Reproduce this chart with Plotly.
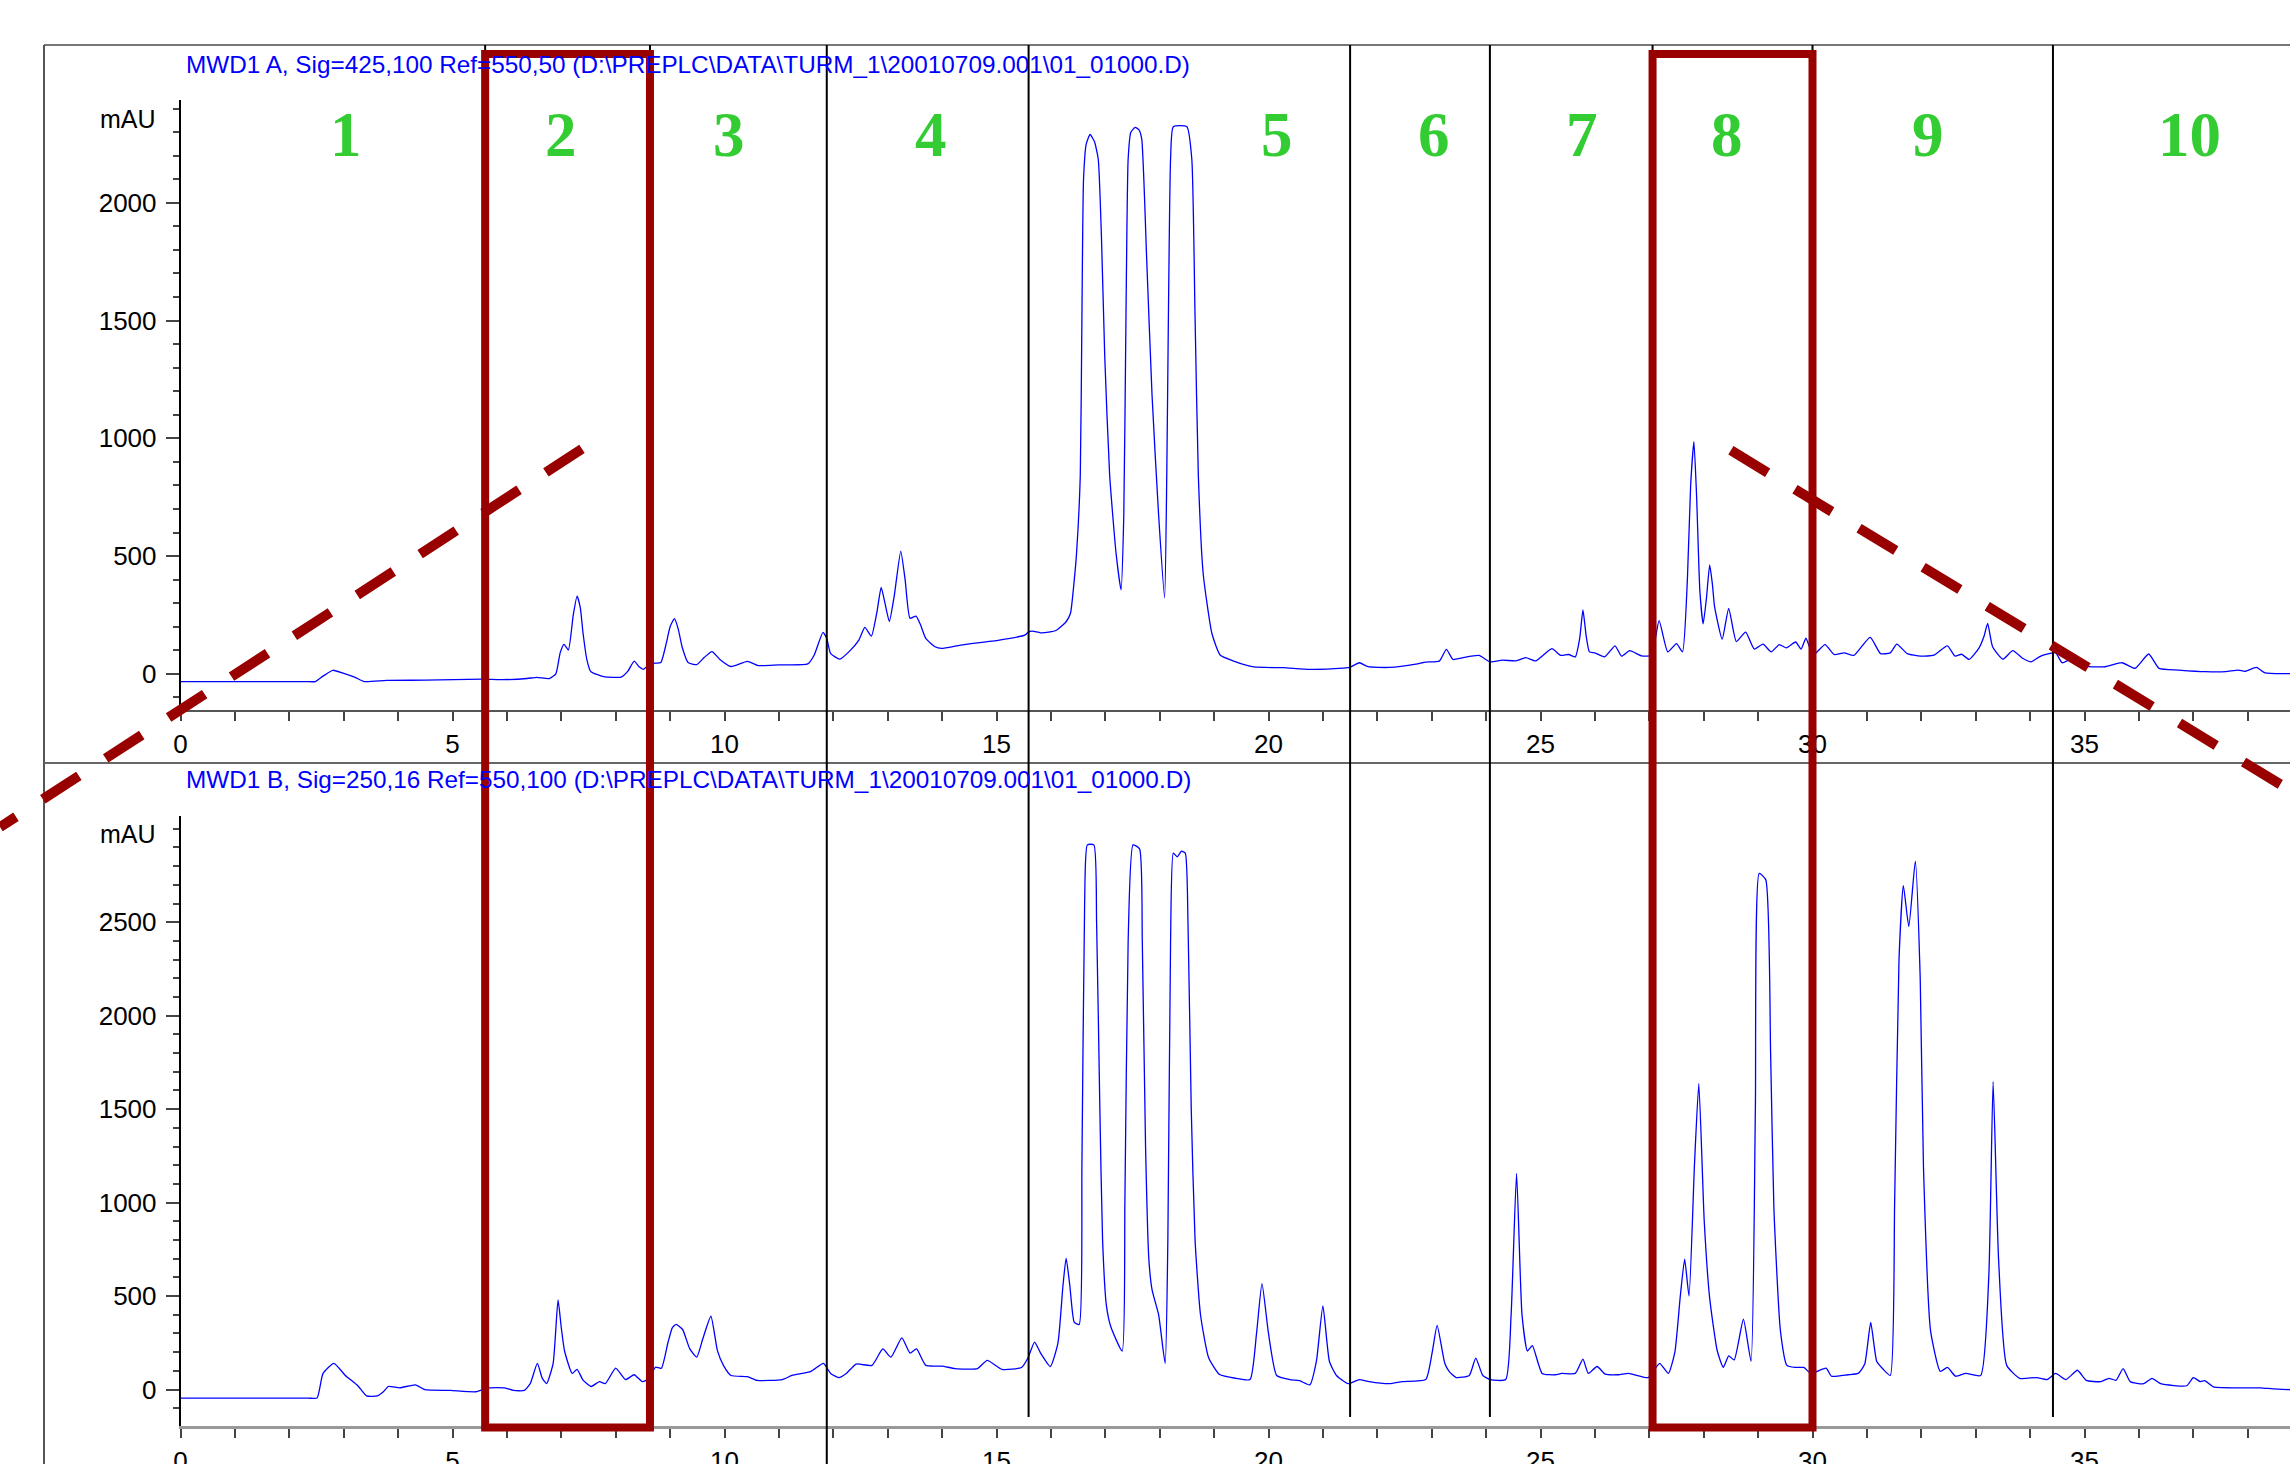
import plotly.graph_objects as go

W, H = 2290, 1464

# ---------------- data ----------------
# Signal A: MWD1 A, 425 nm  (time in min, absorbance in mAU)
time_a = [0.0, 1.2, 2.30, 2.48, 2.62, 2.80, 3.00, 3.21, 3.38, 3.79, 4.5, 5.55, 5.9, 6.37, 6.55, 6.78, 6.90, 6.98,
          7.05, 7.13, 7.22, 7.29, 7.35, 7.40, 7.47, 7.54, 7.78, 8.10, 8.22, 8.34, 8.43, 8.51, 8.60,
          8.72, 8.83, 8.93, 9.00, 9.08, 9.15, 9.22, 9.33, 9.49, 9.63, 9.77, 9.92, 10.12, 10.42, 10.62,
          11.0, 11.53, 11.65, 11.81, 11.88, 11.95, 12.12, 12.29, 12.47, 12.58, 12.70, 12.80, 12.88,
          12.95, 13.03, 13.12, 13.24, 13.32, 13.41, 13.52, 13.60, 13.70, 13.87, 13.99, 14.34, 15.05,
          15.52, 15.59, 15.66, 15.81, 15.96, 16.10, 16.28, 16.36, 16.43, 16.47, 16.54, 16.57, 16.60,
          16.65, 16.72, 16.80, 16.87, 16.93, 16.99, 17.08, 17.20, 17.29, 17.34, 17.38, 17.42, 17.47,
          17.55, 17.62, 17.67, 17.76, 17.86, 17.98, 18.09, 18.13, 18.16, 18.20, 18.25, 18.50, 18.59,
          18.65, 18.71, 18.80, 18.96, 19.11, 19.36, 19.73, 20.27, 20.76, 21.37, 21.49, 21.67, 21.83,
          22.22, 22.71, 22.89, 23.14, 23.27, 23.39, 23.56, 23.87, 24.07, 24.30, 24.55, 24.73, 24.91,
          25.21, 25.37, 25.52, 25.64, 25.72, 25.78, 25.84, 25.90, 26.00, 26.18, 26.37, 26.49, 26.64,
          26.86, 27.04, 27.18, 27.34, 27.50, 27.61, 27.70, 27.76, 27.82, 27.87, 27.93, 27.99, 28.05,
          28.11, 28.16, 28.20, 28.34, 28.46, 28.60, 28.77, 28.93, 29.09, 29.24, 29.39, 29.52, 29.69,
          29.79, 29.88, 30.01, 30.23, 30.40, 30.58, 30.76, 31.06, 31.25, 31.43, 31.55, 31.74, 31.99,
          32.23, 32.48, 32.62, 32.74, 32.88, 33.06, 33.15, 33.22, 33.31, 33.50, 33.68, 33.87, 34.02,
          34.17, 34.29, 34.47, 34.59, 34.84, 35.02, 35.38, 35.69, 35.93, 36.18, 36.37, 36.73, 37.22,
          37.59, 37.83, 37.95, 38.16, 38.32, 38.78]
signal_a = [-33, -33, -33, -33, -10, 15, 2, -15, -33, -28, -27, -23, -25, -20, -15, -20, 0, 90,
            125, 101, 250, 330, 280, 172, 60, 10, -12, -14, 10, 54, 30, 19, 35,
            45, 48, 130, 200, 234, 190, 115, 48, 39, 70, 94, 60, 31, 53, 35,
            38, 42, 80, 176, 150, 87, 62, 94, 143, 197, 160, 260, 367,
            300, 222, 330, 521, 400, 236, 245, 210, 150, 115, 108, 122, 143,
            164, 178, 181, 174, 177, 185, 221, 257, 400, 507, 842, 1515, 2101,
            2250, 2290, 2260, 2186, 1850, 1346, 844, 507, 356, 674, 1515, 2186, 2300,
            2320, 2310, 2270, 1766, 1180, 674, 322, 844, 1515, 2186, 2323, 2323, 2186,
            1515, 844, 424, 171, 80, 54, 29, 26, 19, 24, 27, 47, 30,
            27, 41, 50, 54, 104, 61, 68, 78, 51, 58, 55, 69, 55,
            107, 78, 82, 72, 150, 271, 160, 93, 89, 72, 119, 75, 98,
            76, 79, 226, 93, 128, 93, 400, 800, 986, 750, 350, 212, 320,
            462, 380, 285, 147, 278, 137, 177, 105, 126, 93, 124, 110, 135,
            105, 151, 79, 124, 82, 89, 78, 155, 86, 89, 126, 86, 75,
            79, 119, 75, 83, 61, 109, 157, 214, 115, 62, 98, 65, 51,
            72, 82, 89, 47, 72, 33, 30, 47, 23, 84, 23, 16, 9,
            9, 16, 10, 27, 4, 1]

# Signal B: MWD1 B, 250 nm
time_b = [0.0, 1.2, 2.35, 2.51, 2.62, 2.82, 3.03, 3.26, 3.42, 3.62, 3.73, 3.82, 4.03, 4.32, 4.49, 4.96, 5.43,
          5.67, 5.96, 6.12, 6.32, 6.43, 6.56, 6.65, 6.73, 6.85, 6.94, 7.00, 7.06, 7.20, 7.29, 7.40,
          7.55, 7.70, 7.81, 8.00, 8.18, 8.34, 8.49, 8.62, 8.73, 8.84, 8.96, 9.04, 9.11, 9.23, 9.36,
          9.49, 9.60, 9.75, 9.87, 9.98, 10.12, 10.42, 10.60, 11.06, 11.24, 11.59, 11.82, 11.95,
          12.10, 12.24, 12.42, 12.71, 12.91, 13.06, 13.26, 13.41, 13.53, 13.70, 14.00, 14.24, 14.65,
          14.83, 15.10, 15.46, 15.58, 15.70, 15.81, 15.99, 16.13, 16.22, 16.28, 16.35, 16.43, 16.52,
          16.57, 16.62, 16.67, 16.79, 16.84, 16.90, 16.95, 17.02, 17.10, 17.31, 17.36, 17.42, 17.51,
          17.63, 17.68, 17.74, 17.80, 17.86, 17.98, 18.10, 18.15, 18.20, 18.25, 18.32, 18.40, 18.47,
          18.52, 18.58, 18.65, 18.75, 18.90, 19.10, 19.40, 19.66, 19.78, 19.88, 20.00, 20.15, 20.39,
          20.57, 20.76, 20.88, 21.00, 21.12, 21.25, 21.47, 21.67, 21.85, 22.22, 22.46, 22.89, 23.01,
          23.10, 23.24, 23.32, 23.45, 23.69, 23.81, 23.94, 24.08, 24.36, 24.46, 24.56, 24.66, 24.76,
          24.85, 25.03, 25.27, 25.39, 25.64, 25.78, 25.88, 26.04, 26.19, 26.43, 26.62, 26.98, 27.19,
          27.35, 27.47, 27.57, 27.65, 27.73, 27.83, 27.91, 28.01, 28.11, 28.25, 28.36, 28.46, 28.56,
          28.73, 28.87, 28.95, 29.02, 29.14, 29.23, 29.29, 29.41, 29.53, 29.68, 29.84, 29.97, 30.25,
          30.35, 30.65, 30.84, 30.96, 31.07, 31.18, 31.30, 31.43, 31.51, 31.59, 31.67, 31.77, 31.89,
          31.98, 32.04, 32.17, 32.35, 32.48, 32.63, 32.82, 33.09, 33.24, 33.32, 33.42, 33.57, 33.81,
          34.12, 34.31, 34.47, 34.66, 34.87, 35.03, 35.30, 35.45, 35.58, 35.71, 35.84, 36.09, 36.24,
          36.40, 36.88, 37.00, 37.13, 37.21, 37.37, 37.98, 38.23, 38.47, 38.78]
signal_b = [-46, -46, -46, -46, 86, 140, 75, 20, -34, -34, -12, 16, 9, 25, -1, -5, -12,
            9, 9, -5, -5, 32, 140, 60, 32, 140, 479, 330, 206, 86, 108, 50,
            16, 42, 32, 114, 53, 79, 42, 60, 119, 114, 250, 330, 348, 321, 219,
            173, 270, 392, 208, 129, 75, 69, 49, 53, 75, 97, 140, 86,
            64, 86, 136, 129, 217, 173, 276, 195, 217, 129, 125, 112, 112,
            156, 108, 118, 170, 254, 195, 123, 250, 550, 703, 550, 359, 348,
            1200, 2600, 2914, 2914, 2500, 1500, 800, 450, 337, 206, 1000, 2400, 2914,
            2893, 2400, 1300, 700, 533, 400, 140, 800, 2400, 2870, 2850, 2880, 2870,
            2500, 1500, 800, 400, 170, 80, 60, 53, 300, 566, 300, 75, 53,
            47, 25, 150, 447, 150, 75, 31, 53, 42, 31, 42, 53, 200,
            343, 140, 97, 64, 75, 168, 75, 53, 53, 400, 1156, 400, 206,
            235, 86, 79, 86, 86, 162, 86, 123, 82, 79, 86, 64, 140,
            86, 200, 500, 697, 500, 1200, 1636, 900, 489, 206, 119, 180, 158,
            376, 151, 1500, 2761, 2728, 1800, 971, 315, 129, 118, 118, 86, 114,
            71, 79, 86, 136, 359, 151, 108, 75, 1000, 2300, 2696, 2477, 2827,
            2200, 1189, 315, 97, 118, 71, 86, 75, 600, 1647, 700, 129, 60,
            64, 53, 86, 53, 103, 49, 42, 60, 49, 112, 42, 31, 60,
            31, 20, 64, 42, 47, 14, 9, 9, 3, -1]

title_a = "MWD1 A, Sig=425,100 Ref=550,50 (D:\\PREPLC\\DATA\\TURM_1\\20010709.001\\01_01000.D)"
title_b = "MWD1 B, Sig=250,16 Ref=550,100 (D:\\PREPLC\\DATA\\TURM_1\\20010709.001\\01_01000.D)"
unit_label = "mAU"

fraction_labels = ["1", "2", "3", "4", "5", "6", "7", "8", "9", "10"]
fraction_label_time = [3.05, 7.0, 10.09, 13.79, 20.16, 23.05, 25.77, 28.42, 32.13, 36.93]
fraction_cuts = [5.60, 8.63, 11.88, 15.59, 21.50, 24.07, 27.06, 30.00, 34.42]
long_cut = 11.88                      # this divider runs down to the page edge
highlight_start = [5.60, 27.06]       # red boxes (fractions 2 and 8)
highlight_end = [8.63, 30.00]
# dashed "zoom" lines, in minutes / mAU of panel A
zoom_line_t = [[7.38, -3.318], [28.50, 38.78]]
zoom_line_v = [[955, -651], [949, -495]]

x_ticks = [0, 5, 10, 15, 20, 25, 30, 35]
y_ticks_a = [0, 500, 1000, 1500, 2000]
y_ticks_b = [0, 500, 1000, 1500, 2000, 2500]

# ---------------- geometry (pixels of the page) ----------------
PX_T0 = 180.5          # x pixel of t = 0
PX_PER_MIN = 54.4
A_ZERO, A_PPU, A_BOT, A_TOP = 673.8, 0.2355, 709.5, 100.0
B_ZERO, B_PPU, B_BOT, B_TOP = 1389.5, 0.1869, 1426.0, 816.0


def py(px):
    return 1 - px / H


def px_x(px):
    return px / W


t_max = (W - PX_T0) / PX_PER_MIN

SANS = "Liberation Sans, Arial, sans-serif"
BLUE = "#0000FF"
RED = "#990000"
GREEN = "#33CC33"

fig = go.Figure()
fig.add_trace(go.Scatter(x=time_a, y=signal_a, mode="lines", xaxis="x", yaxis="y",
                         line=dict(color=BLUE, width=1.3, shape="spline", smoothing=0.5),
                         hoverinfo="skip"))
fig.add_trace(go.Scatter(x=time_b, y=signal_b, mode="lines", xaxis="x2", yaxis="y2",
                         line=dict(color=BLUE, width=1.3, shape="spline", smoothing=0.5),
                         hoverinfo="skip"))

tickfont = dict(family=SANS, size=26, color="black")


def xaxis(anchor, linecolor, linewidth):
    return dict(domain=[px_x(PX_T0), 1], range=[0, t_max], anchor=anchor,
                tickvals=x_ticks, ticktext=[str(v) for v in x_ticks],
                ticks="outside", ticklen=9, tickwidth=1.5, tickcolor="#444",
                minor=dict(dtick=1, tick0=0, ticks="outside", ticklen=9, tickwidth=1.5, tickcolor="#444"),
                showline=True, linecolor=linecolor, linewidth=linewidth,
                showgrid=False, zeroline=False, tickfont=tickfont, ticklabelstandoff=1)


def yaxis(anchor, dom, rng, tv):
    return dict(domain=dom, range=rng, anchor=anchor,
                tickvals=tv, ticktext=[str(v) for v in tv],
                ticks="outside", ticklen=13, tickwidth=1.5, tickcolor="#444",
                minor=dict(dtick=100, tick0=0, ticks="outside", ticklen=6, tickwidth=1.5, tickcolor="#444"),
                showline=True, linecolor="black", linewidth=1.5,
                showgrid=False, zeroline=False, tickfont=tickfont, ticklabelstandoff=4)


layout = dict(
    width=W, height=H, margin=dict(l=0, r=0, t=0, b=0, pad=0),
    paper_bgcolor="white", plot_bgcolor="rgba(0,0,0,0)", showlegend=False,
    template="none", hovermode=False,
    xaxis=xaxis("y", "#555", 2),
    yaxis=yaxis("x", [py(A_BOT), py(A_TOP)],
                [(A_ZERO - A_BOT) / A_PPU, (A_ZERO - A_TOP) / A_PPU], y_ticks_a),
    xaxis2=xaxis("y2", "#999", 3),
    yaxis2=yaxis("x2", [py(B_BOT), py(B_TOP)],
                 [(B_ZERO - B_BOT) / B_PPU, (B_ZERO - B_TOP) / B_PPU], y_ticks_b),
    # full-page overlay axes with the scale of panel A (for the dashed zoom lines)
    xaxis3=dict(domain=[0, 1], range=[-PX_T0 / PX_PER_MIN, t_max], anchor="y3", visible=False),
    yaxis3=dict(domain=[0, 1], range=[(A_ZERO - H) / A_PPU, A_ZERO / A_PPU], anchor="x3", visible=False),
)
fig.update_layout(**layout)

shapes = []
# page frame
shapes.append(dict(type="line", xref="paper", yref="paper", x0=px_x(44), x1=1, y0=py(45), y1=py(45),
                   line=dict(color="#777", width=2)))
shapes.append(dict(type="line", xref="paper", yref="paper", x0=px_x(44), x1=px_x(44), y0=py(45), y1=0,
                   line=dict(color="#555", width=2)))
shapes.append(dict(type="line", xref="paper", yref="paper", x0=px_x(44), x1=1, y0=py(763), y1=py(763),
                   line=dict(color="#666", width=2)))
# fraction dividers
for c in fraction_cuts:
    bottom = 0 if c == long_cut else py(1417)
    shapes.append(dict(type="line", xref="x", yref="paper", x0=c, x1=c, y0=py(45), y1=bottom,
                       line=dict(color="black", width=2)))
# highlighted fractions
for a, b in zip(highlight_start, highlight_end):
    shapes.append(dict(type="rect", xref="x", yref="paper", x0=a, x1=b, y0=py(1427.5), y1=py(54),
                       line=dict(color=RED, width=8), fillcolor="rgba(0,0,0,0)"))
# dashed zoom lines
for ts, vs in zip(zoom_line_t, zoom_line_v):
    shapes.append(dict(type="line", xref="x3", yref="y3", x0=ts[0], x1=ts[1], y0=vs[0], y1=vs[1],
                       line=dict(color=RED, width=10, dash="43px,32px")))
fig.update_layout(shapes=shapes)

ann = []
ann.append(dict(text=title_a, xref="paper", yref="paper", x=px_x(184), y=py(64), xanchor="left",
                yanchor="middle", showarrow=False, font=dict(family=SANS, size=24.3, color=BLUE)))
ann.append(dict(text=title_b, xref="paper", yref="paper", x=px_x(184), y=py(779), xanchor="left",
                yanchor="middle", showarrow=False, font=dict(family=SANS, size=24.3, color=BLUE)))
ann.append(dict(text=unit_label, xref="paper", yref="paper", x=px_x(158), y=py(119), xanchor="right",
                yanchor="middle", showarrow=False, font=dict(family=SANS, size=25, color="black")))
ann.append(dict(text=unit_label, xref="paper", yref="paper", x=px_x(158), y=py(834), xanchor="right",
                yanchor="middle", showarrow=False, font=dict(family=SANS, size=25, color="black")))
for lab, t in zip(fraction_labels, fraction_label_time):
    ann.append(dict(text="<b>" + lab + "</b>", xref="x", yref="paper", x=t, y=py(135), xanchor="center",
                    yanchor="middle", showarrow=False,
                    font=dict(family="Liberation Serif, Times New Roman, serif", size=63, color=GREEN)))
fig.update_layout(annotations=ann)

fig.write_html("out.html", config={"displayModeBar": False},
               post_script="document.body.style.margin='0';")
